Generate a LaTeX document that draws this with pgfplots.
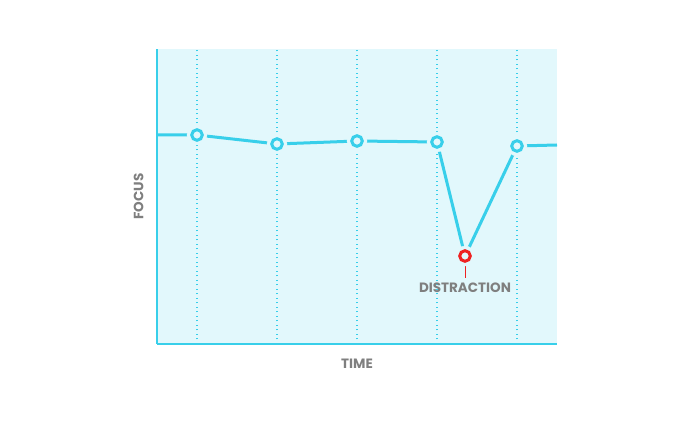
\documentclass[border=0pt]{standalone}
\usepackage{pgfplots}
\pgfplotsset{compat=1.18}
\usepackage{fontspec}
\newfontfamily\lab{Poppins}
\definecolor{bgc}{HTML}{E2F8FC}
\definecolor{lc}{HTML}{38CFEA}
\definecolor{rc}{HTML}{EE2222}
\definecolor{tc}{HTML}{7F7F7F}
\begin{document}
\begin{tikzpicture}[x=1pt,y=1pt]
\begin{axis}[
  at={(157pt,76pt)}, anchor=south west,
  scale only axis, width=400pt, height=295pt,
  xmin=0, xmax=10, ymin=0, ymax=295,
  axis x line=bottom, axis y line=left,
  axis line style={draw=lc, line width=1.2pt, -},
  axis background/.style={fill=bgc},
  xtick={1,3,5,7,9}, ytick=\empty,
  xticklabels={}, major tick length=0pt,
  xmajorgrids, grid style={draw=lc, line width=1.2pt, dash pattern=on 1.2pt off 3.3pt},
  xlabel={\lab\bfseries\color{tc}TIME}, ylabel={\lab\bfseries\color{tc}FOCUS},
  xlabel style={at={(axis description cs:0.5,0)}, anchor=north, yshift=-11pt, font=\fontsize{13.5}{14}\selectfont},
  ylabel style={at={(axis description cs:0,0.5)}, anchor=south, yshift=10pt, font=\fontsize{13.5}{14}\selectfont},
  clip=false,
]
\addplot[draw=lc, line width=3pt, line join=round] coordinates {
 (0,209) (1,209) (3,200) (5,203) (7,202) (7.7,88) (9,198) (10,199)};
\addplot[only marks, mark=*, mark size=10pt, color=bgc, mark options={draw=none, fill=bgc}] coordinates {
 (1,209) (3,200) (5,203) (7,202) (7.7,88) (9,198)};
\addplot[only marks, mark=o, mark size=5.3pt, mark options={draw=lc, line width=3pt, fill=bgc}] coordinates {
 (1,209) (3,200) (5,203) (7,202) (9,198)};
\addplot[only marks, mark=o, mark size=5.3pt, mark options={draw=rc, line width=3pt, fill=bgc}] coordinates {
 (7.7,88)};
\draw[rc, line width=0.9pt] (axis cs:7.7,78) -- (axis cs:7.7,66);
\node[anchor=north, font=\lab\bfseries\fontsize{13.5}{14}\selectfont, text=tc, inner sep=0pt] at (axis cs:7.7,61.5) {DISTRACTION};
\end{axis}
\pgfresetboundingbox
\useasboundingbox (0,0) rectangle (690,420);
\end{tikzpicture}
\end{document}
